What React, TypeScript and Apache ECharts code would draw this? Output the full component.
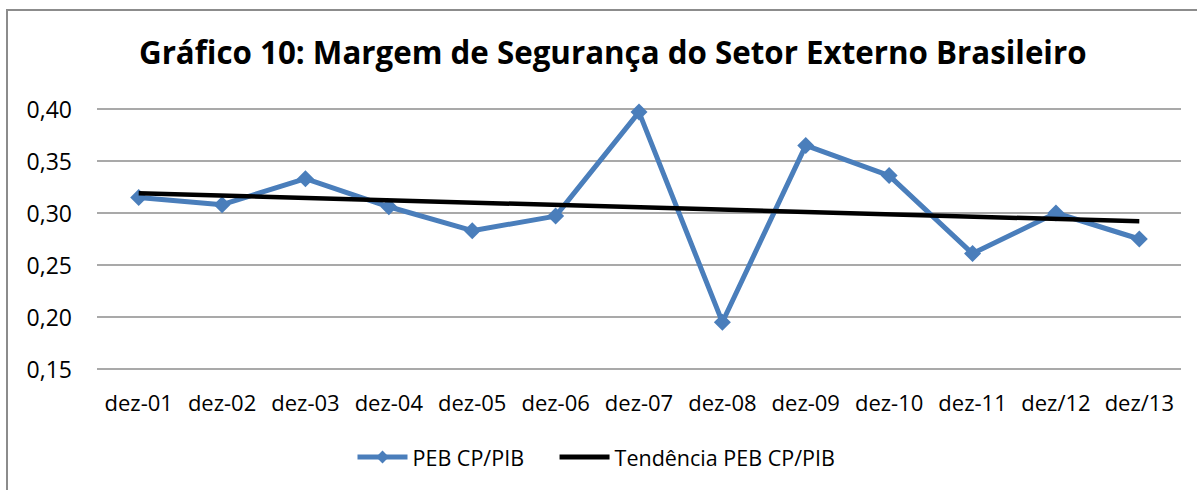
import React, { useEffect, useRef } from "react";
import * as echarts from "echarts";

const TITLE = "Gráfico 10: Margem de Segurança do Setor Externo Brasileiro";
const categories = ["dez-01", "dez-02", "dez-03", "dez-04", "dez-05", "dez-06", "dez-07", "dez-08", "dez-09", "dez-10", "dez-11", "dez/12", "dez/13"];
const pebValues = [0.315, 0.308, 0.333, 0.306, 0.283, 0.297, 0.397, 0.195, 0.365, 0.336, 0.261, 0.300, 0.275];
const trendEnds = [0.319, 0.292];
const seriesNames = ["PEB CP/PIB", "Tendência PEB CP/PIB"];

const FONT = "'Open Sans', sans-serif";

export default function App() {
  const ref = useRef<HTMLDivElement>(null);
  useEffect(() => {
    if (!ref.current) return;
    const chart = echarts.init(ref.current, null, { renderer: "svg" });
    const trendData = categories.map((_, i) =>
      i === 0 ? trendEnds[0] : i === categories.length - 1 ? trendEnds[1] : null
    );
    chart.setOption({
      animation: false,
      backgroundColor: "#ffffff",
      textStyle: { fontFamily: FONT },
      title: {
        text: TITLE,
        left: 134,
        top: 31,
        textStyle: { fontFamily: FONT, fontSize: 31.3, fontWeight: "bold", color: "#000" },
      },
      graphic: [
        {
          type: "rect",
          shape: { x: 7, y: 10, width: 1300, height: 600 },
          style: { fill: "none", stroke: "#8c8c8c", lineWidth: 2 },
          silent: true,
        },
      ],
      legend: {
        bottom: 17,
        left: 350,
        itemWidth: 50,
        itemHeight: 16,
        itemGap: 33,
        textStyle: { fontFamily: FONT, fontSize: 21.5, color: "#000" },
        data: [
          { name: seriesNames[0], lineStyle: { width: 5 } },
          { name: seriesNames[1], itemStyle: { opacity: 0 }, lineStyle: { width: 5 } },
        ],
      },
      grid: { left: 97, right: 16, top: 109, bottom: 121, containLabel: false },
      xAxis: {
        type: "category",
        data: categories,
        boundaryGap: true,
        axisLine: { show: false },
        axisTick: { show: false },
        axisLabel: { fontFamily: FONT, fontSize: 22, color: "#000", margin: 22, interval: 0 },
      },
      yAxis: {
        type: "value",
        min: 0.15,
        max: 0.4,
        interval: 0.05,
        axisLine: { show: false },
        axisTick: { show: false },
        axisLabel: {
          fontFamily: FONT,
          fontSize: 23,
          color: "#000",
          margin: 25,
          formatter: (v: number) => v.toFixed(2).replace(".", ","),
        },
        splitLine: { lineStyle: { color: "#8c8c8c", width: 1.5 } },
      },
      series: [
        {
          name: seriesNames[0],
          type: "line",
          data: pebValues,
          symbol: "diamond",
          symbolSize: 17,
          lineStyle: { color: "#4A7EBB", width: 5 },
          itemStyle: { color: "#4A7EBB" },
          z: 2,
        },
        {
          name: seriesNames[1],
          type: "line",
          data: trendData,
          connectNulls: true,
          symbol: "none",
          lineStyle: { color: "#000", width: 4.5 },
          itemStyle: { color: "#000" },
          z: 3,
        },
      ],
    });
    return () => chart.dispose();
  }, []);
  return (
    <div
      ref={ref}
      style={{ position: "fixed", left: 0, top: 0, width: 1197, height: 490 }}
    />
  );
}
